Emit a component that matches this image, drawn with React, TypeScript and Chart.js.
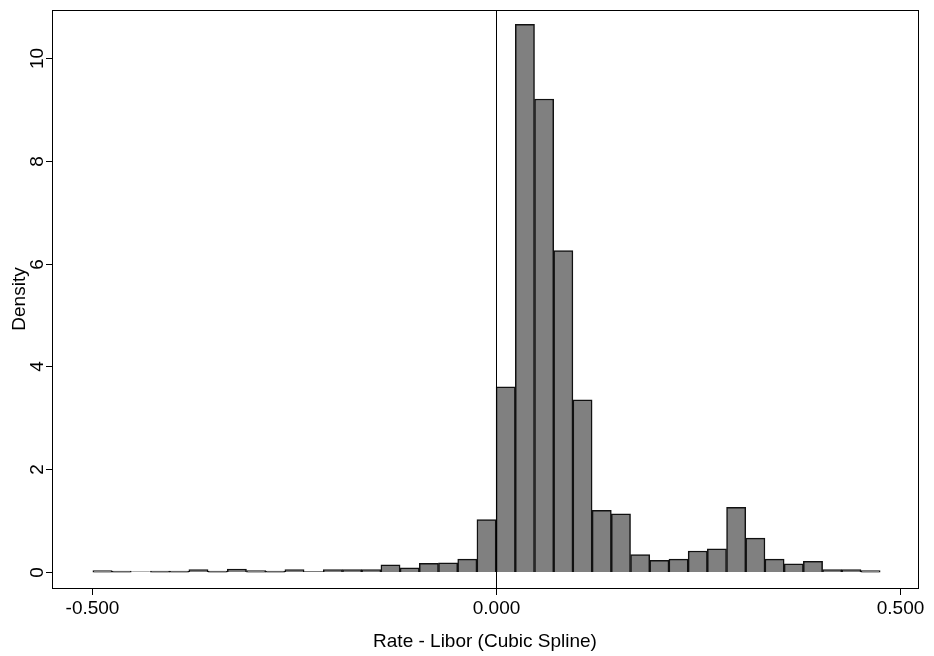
import React, { useEffect, useRef } from "react";
import { Chart, registerables } from "chart.js";
Chart.register(...registerables);

const binWidth = 0.02376;
const binStart = -21 * binWidth;
const densities = [
  0.03, 0.02, 0.005, 0.02, 0.02, 0.05, 0.02, 0.06, 0.03, 0.02, 0.05, 0.01, 0.05, 0.05, 0.05, 0.14, 0.08, 0.17, 0.18, 0.25, 1.02,
  3.6, 10.65, 9.2, 6.25, 3.35, 1.2, 1.13, 0.34, 0.23, 0.25, 0.41, 0.45, 1.26, 0.66, 0.25, 0.16, 0.21, 0.05, 0.05, 0.03,
];
const xTicks = [-0.5, 0, 0.5];
const yTicks = [0, 2, 4, 6, 8, 10];

export default function App() {
  const ref = useRef<HTMLCanvasElement>(null);
  useEffect(() => {
    const font = "Liberation Sans, Arial, sans-serif";
    const data = densities.map((y, i) => ({ x: binStart + (i + 0.5) * binWidth, y }));
    const deco = {
      id: "deco",
      afterDraw(c: any) {
        const ctx = c.ctx;
        const a = c.chartArea;
        const xs = c.scales.x, ys = c.scales.y;
        ctx.save();
        ctx.strokeStyle = "#000";
        ctx.lineWidth = 1;
        ctx.strokeRect(a.left + 0.5, a.top + 0.5, a.right - a.left, a.bottom - a.top);
        const x0 = Math.round(xs.getPixelForValue(0)) + 0.5;
        ctx.beginPath(); ctx.moveTo(x0, a.top); ctx.lineTo(x0, a.bottom); ctx.stroke();
        ctx.fillStyle = "#000";
        ctx.font = `19px ${font}`;
        ctx.textAlign = "center"; ctx.textBaseline = "top";
        for (const v of xTicks) {
          const px = Math.round(xs.getPixelForValue(v)) + 0.5;
          ctx.beginPath(); ctx.moveTo(px, a.bottom); ctx.lineTo(px, a.bottom + 7); ctx.stroke();
          ctx.fillText(v.toFixed(3), px, a.bottom + 11);
        }
        for (const v of yTicks) {
          const py = Math.round(ys.getPixelForValue(v)) + 0.5;
          ctx.beginPath(); ctx.moveTo(a.left, py); ctx.lineTo(a.left - 6, py); ctx.stroke();
          ctx.save();
          ctx.translate(a.left - 5, py);
          ctx.rotate(-Math.PI / 2);
          ctx.textAlign = "center"; ctx.textBaseline = "bottom";
          ctx.fillText(String(v), 0, 0);
          ctx.restore();
        }
        ctx.textAlign = "center"; ctx.textBaseline = "bottom";
        ctx.fillText("Rate - Libor (Cubic Spline)", (a.left + a.right) / 2, 651);
        ctx.save();
        ctx.translate(10, (a.top + a.bottom) / 2);
        ctx.rotate(-Math.PI / 2);
        ctx.textBaseline = "top";
        ctx.fillText("Density", 0, 0);
        ctx.restore();
        ctx.restore();
      },
    };
    const chart = new Chart(ref.current!, {
      type: "bar",
      data: {
        datasets: [{
          data: data as any,
          backgroundColor: "#808080",
          borderColor: "#111",
          borderWidth: 1.5,
          barPercentage: 1,
          categoryPercentage: 1,
          grouped: false,
        }],
      },
      options: {
        animation: false,
        responsive: false,
        layout: { padding: { top: 10, right: 16, left: 0, bottom: 0 } },
        plugins: { legend: { display: false }, tooltip: { enabled: false } },
        scales: {
          x: {
            type: "linear", min: -0.5495, max: 0.522, offset: false,
            grid: { display: false }, border: { display: false },
            ticks: { display: false },
            afterFit: (s: any) => { s.height = 68; },
          },
          y: {
            min: -0.31, max: 10.93,
            grid: { display: false }, border: { display: false },
            ticks: { display: false },
            afterFit: (s: any) => { s.width = 52; },
          },
        },
      },
      plugins: [deco],
    });
    return () => chart.destroy();
  }, []);
  return (
    <div style={{ position: "absolute", left: 0, top: 0, background: "#fff" }}>
      <canvas ref={ref} width={934} height={656} />
    </div>
  );
}
